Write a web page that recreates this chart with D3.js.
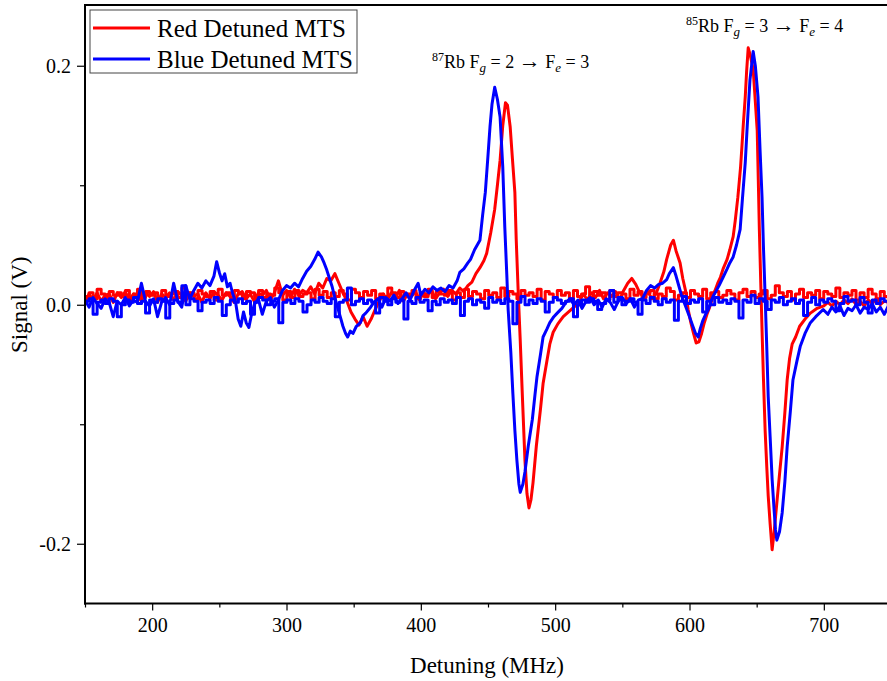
<!DOCTYPE html>
<html>
<head>
<meta charset="utf-8">
<script src="https://cdn.jsdelivr.net/npm/d3@7"></script>
<style>
  html, body { margin: 0; padding: 0; background: #fff; }
  svg { display: block; }
  text { font-family: "Liberation Serif", "Times New Roman", serif; }
</style>
</head>
<body>
<svg id="chart" width="887" height="681"></svg>
<script>
// ---------------- DATA ----------------
const xTicksMajor = [200, 300, 400, 500, 600, 700];
const xTicksMinor = [150, 250, 350, 450, 550, 650, 750];
const yTicksMajor = [-0.2, 0.0, 0.2];
const yTicksMinor = [-0.1, 0.1];
const xDomain = [150, 750];
const yDomain = [-0.25, 0.25];

const seriesNames = ["Red Detuned MTS", "Blue Detuned MTS"];
const seriesColors = ["#ff0000", "#0000ff"];

// Forward scans: [detuning MHz, signal mV]
const redForward = [
[150,2],[153,9],[156,4],[159,10],[162,3],[165,8],[168,9],[171,2],[174,10],[177,6],[180,11],[183,4],[186,9],[189,8],[192,3],[195,10],[198,7],[201,11],[204,2],[207,9],[210,6],[213,10],[216,4],[219,11],[222,8],[225,3],[228,10],[231,7],[234,9],[237,2],[240,10],[243,5],[246,11],[249,8],[252,4],[255,10],[258,7],[261,2],[264,9],[267,11],[270,5],[273,9],[276,3],[279,10],[282,8],[285,12],[288,4],[291,10],[294,20],[297,8],[300,12],[303,6],[306,13],[309,8],[312,12],[315,10],[318,15],[321,9],[324,18],[327,14],[330,22],[333,20],[336,26],[339,18],[342,10],[345,3],[348,-6],[351,-12],[354,-17],[357,-10],[360,-18],[363,-12],[366,-4],[369,3],[372,9],[375,4],[378,10],[381,6],[384,12],[387,3],[390,9],[393,7],[396,11],[399,4],[402,10],[405,8],[408,12],[411,5],[414,10],[417,13],[420,7],[423,12],[426,9],[429,14],[432,11],[435,16],[438,19],[441,26],[444,31],[447,37],[449,43],[452,60],[455,80],[457,100],[459,121],[461,150],[463,169],[464.5,167],[466.5,149],[468,125],[470,94],[471,55],[472.5,10],[474,-30],[475.5,-74],[477.5,-130],[479,-158],[480.5,-170],[482,-163],[483.5,-149],[486,-118],[489,-88],[491,-66],[494,-46],[496,-33],[498.5,-23],[502,-16],[506,-10],[510,-6],[514,-2],[518,3],[521,9],[524,4],[527,10],[530,6],[533,12],[536,5],[539,10],[542,7],[545,11],[548,4],[551,12],[554,18],[557,22],[560,17],[563,10],[566,6],[569,11],[572,5],[575,9],[578,18],[581,28],[583,38],[586,50],[588,54],[590,45],[593,35],[595,22],[597,12],[599,-4],[601,-15],[603,-24],[605,-32],[607,-31],[609,-24],[611,-15],[613,-8],[615,-2],[617,5],[619,12],[621,18],[623,23],[625,30],[628,38],[630,46],[632.5,57],[634,70],[636,90],[638,115],[639,132],[640,150],[641.5,174],[642.5,195],[643.7,215],[645,210],[647.4,197],[649,170],[650.4,146],[651.2,105],[652,63],[653,20],[654,-21],[655,-60],[656.3,-105],[657.5,-135],[658.6,-160],[660,-183],[661.5,-205],[663,-190],[665,-166],[667,-142],[669,-119],[671,-90],[672.7,-63],[674.5,-45],[676.4,-33],[679,-27],[682,-18],[686,-12],[690,-7],[695,-3],[700,-1],[703,2],[706,-1],[709,3],[712,0],[715,4],[718,1],[721,5],[724,0],[727,3],[730,-1],[733,4],[736,1],[739,5],[742,0],[745,3],[748,2]
];

const blueForward = [
[150,4],[153,-2],[156,6],[159,1],[162,-3],[165,5],[168,2],[171,-10],[174,3],[177,0],[180,6],[183,-1],[186,4],[189,2],[192,18],[195,3],[198,-1],[201,5],[204,-10],[207,2],[210,6],[213,0],[216,18],[219,3],[222,-2],[225,16],[228,5],[231,12],[234,18],[237,14],[240,20],[243,16],[246,24],[248,36],[250,27],[252,20],[254,26],[256,15],[258,18],[260,9],[262,3],[264,-12],[266,-18],[268,-6],[270,-15],[272,-19],[274,-8],[276,0],[279,5],[282,-8],[285,3],[288,6],[291,-2],[294,4],[297,12],[300,16],[303,14],[306,18],[309,15],[312,22],[315,28],[318,32],[321,38],[323.5,44],[326,40],[328,35],[330,29],[332,22],[334,15],[336,6],[338,-2],[340,-10],[342,-18],[344,-24],[345.5,-27],[347.5,-22],[349.5,-24],[352,-18],[355,-15],[357,-9],[359,-7],[362,-3],[365,2],[368,5],[371,-2],[374,6],[377,3],[380,8],[383,1],[386,5],[389,10],[392,4],[395,12],[398,18],[400,8],[403,13],[406,10],[409,15],[412,12],[415,14],[418,11],[421,16],[424,14],[427,20],[429,27],[432,30],[435,35],[437,38],[440,46],[442,50],[444,54],[446,75],[448,94],[450,125],[451.5,149],[453,168],[455,182],[457,172],[459,157],[461,115],[462.5,65],[464,25],[465,-4],[467,-40],[468.5,-74],[470,-105],[471.5,-130],[473,-150],[474,-157],[476,-150],[477.5,-140],[480,-118],[483,-96],[485,-75],[486.5,-60],[489,-42],[491,-27],[494,-20],[496,-15],[499,-10],[501.5,-7],[505,-3],[508,2],[511,5],[514,0],[517,4],[520,-3],[523,3],[526,6],[529,0],[532,4],[535,-2],[538,5],[541,2],[544,-4],[547,3],[550,6],[553,1],[556,5],[559,-2],[562,4],[565,5],[568,12],[571,16],[574,14],[577,17],[580,18],[583,21],[585,26],[588,31],[590,24],[591.5,18],[594,8],[596,2],[598,-4],[600,-10],[602.5,-18],[604.5,-24],[606.5,-27],[608,-20],[610,-13],[612,-8],[614,-4],[616,3],[618,8],[620,12],[622,16],[625,23],[628,30],[630,35],[632.5,40],[635,50],[637.7,63],[639.5,90],[641.5,119],[643,150],[645,188],[647.4,212],[649,200],[651,174],[652.5,130],[654,90],[655,50],[656.3,7],[657.5,-35],[658.6,-77],[660,-110],[661.5,-146],[663,-172],[664,-188],[665,-197],[667,-190],[669,-174],[671,-148],[672.7,-119],[675,-90],[677,-63],[680,-47],[682.4,-35],[686,-24],[690,-15],[694,-10],[699.5,-4],[703,-8],[706,-2],[709,-6],[712,-1],[715,-9],[718,-3],[721,-5],[724,0],[727,-7],[730,-2],[733,-4],[736,1],[739,-6],[742,-2],[745,-8],[748,-1]
];

// Return sweeps (748 MHz back to 150 MHz), signal mV
const redReturn = [
7,11,5,9,13,6,10,4,12,8,10,6,14,7,9,11,5,12,8,10,
6,13,9,4,11,7,10,16,8,5,12,9,6,11,7,13,10,4,9,12,
8,6,11,10,5,13,7,9,12,6,10,8,4,11,14,7,9,5,12,10,
6,11,8,13,5,9,10,7,12,4,10,8,11,6,15,9,7,12,5,10,
8,12,6,9,11,4,13,7,10,8,12,5,9,11,7,14,6,10,8,12,
5,9,11,7,13,6,10,4,12,8,9,11,6,13,7,10,5,12,9,8,
11,6,10,14,7,9,5,12,8,11,6,10,13,4,9,12,7,10,6,11,
8,13,5,10,9,7,12,6,11,4,10,14,8,9,6,12,7,10,11,5,
9,12,6,10,8,13,4,11,7,9,12,5,10,8,14,6,11,9,7,12,
5,10,8,11,6,13,9,4,12,7,10,8,11,6,9,13,5,10,7,4];
const blueReturn = [
3,5,1,4,-7,2,6,0,4,3,7,1,-5,3,5,2,4,0,6,2,
-9,4,1,5,3,0,6,2,4,-4,3,5,1,8,2,4,-11,3,5,1,
4,2,6,0,3,-6,5,2,4,1,7,3,-13,4,2,5,0,3,6,1,
4,-8,2,5,3,0,6,2,12,4,1,-4,3,5,2,4,0,-10,5,3,
1,4,6,2,-6,3,5,1,4,0,7,2,-16,3,5,1,4,2,6,-3,
2,4,0,5,3,-9,6,1,4,2,5,0,3,-5,4,2,6,1,3,-12,
4,2,5,0,3,6,-7,2,4,1,5,3,0,14,4,2,-10,5,1,3,
6,2,4,0,-6,3,5,1,4,2,-15,5,3,0,4,6,2,-8,3,1,
5,2,4,0,-9,3,6,1,4,2,-5,3,5,0,16,2,4,1,-11,3,
5,2,4,-7,3,1,6,2,4,0,-10,3,5,1,4,2,-8,5,3,2];
const returnRange = [748, 150];

// ---------------- CHART ----------------
const FONT = "Liberation Serif, Times New Roman, serif";
const svg = d3.select("#chart");
const W = 887, H = 681;
const m = { left: 85, top: 6, plotW: 806, plotBottom: 603.5 };

const x = d3.scaleLinear().domain(xDomain).range([m.left, m.left + m.plotW]);
const y = d3.scaleLinear().domain(yDomain).range([m.plotBottom, m.top]);

function toPoints(fwd) { return fwd.map(d => [d[0], d[1] / 1000]); }
function returnPoints(ret) {
  const xr = d3.scaleLinear().domain([0, ret.length - 1]).range(returnRange);
  return ret.map((v, i) => [xr(i), v / 1000]);
}
const series = [
  { name: seriesNames[0], color: seriesColors[0], fwd: toPoints(redForward), ret: returnPoints(redReturn) },
  { name: seriesNames[1], color: seriesColors[1], fwd: toPoints(blueForward), ret: returnPoints(blueReturn) }
];

svg.append("defs").append("clipPath").attr("id", "clip")
  .append("rect").attr("x", m.left).attr("y", m.top)
  .attr("width", m.plotW).attr("height", m.plotBottom - m.top);

const lineFwd = d3.line().x(d => x(d[0])).y(d => y(d[1]));
const lineRet = d3.line().x(d => x(d[0])).y(d => y(d[1])).curve(d3.curveStepAfter);
const gLines = svg.append("g").attr("clip-path", "url(#clip)");
series.forEach(s => {
  // forward sweep, then the return sweep joined to its end
  gLines.append("path").datum(s.fwd.concat([s.ret[0]]))
    .attr("d", lineFwd).attr("fill", "none").attr("stroke", s.color)
    .attr("stroke-width", 3).attr("stroke-linejoin", "round");
  gLines.append("path").datum(s.ret)
    .attr("d", lineRet).attr("fill", "none").attr("stroke", s.color)
    .attr("stroke-width", 3).attr("stroke-linejoin", "round");
});

// Axes
const xAxis = svg.append("g").attr("transform", `translate(0,${m.plotBottom})`)
  .call(d3.axisBottom(x).tickValues(xTicksMajor).tickFormat(d3.format("d")).tickSize(7).tickPadding(7));
const xMinor = svg.append("g").attr("transform", `translate(0,${m.plotBottom})`)
  .call(d3.axisBottom(x).tickValues(xTicksMinor).tickFormat("").tickSize(4));
const yAxis = svg.append("g").attr("transform", `translate(${m.left},0)`)
  .call(d3.axisLeft(y).tickValues(yTicksMajor).tickFormat(d => d3.format(".1f")(d).replace("\u2212", "-")).tickSize(8).tickPadding(6));
const yMinor = svg.append("g").attr("transform", `translate(${m.left},0)`)
  .call(d3.axisLeft(y).tickValues(yTicksMinor).tickFormat("").tickSize(5));

[xAxis, xMinor, yAxis, yMinor].forEach(g => {
  g.attr("font-family", FONT);
  g.select(".domain").remove();
  g.selectAll(".tick line").attr("stroke", "#000").attr("stroke-width", 1.2);
  g.selectAll("text").attr("font-family", FONT).attr("font-size", 20).attr("fill", "#000");
});

// Frame lines
svg.append("line").attr("x1", m.left).attr("x2", m.left).attr("y1", m.top - 1).attr("y2", m.plotBottom + 1)
  .attr("stroke", "#000").attr("stroke-width", 2);
svg.append("line").attr("x1", m.left - 1).attr("x2", W).attr("y1", m.plotBottom).attr("y2", m.plotBottom)
  .attr("stroke", "#000").attr("stroke-width", 2);
svg.append("line").attr("x1", m.left - 1).attr("x2", W).attr("y1", m.top - 1).attr("y2", m.top - 1)
  .attr("stroke", "#000").attr("stroke-width", 2);

// Axis titles
svg.append("text").attr("x", 487).attr("y", 673).attr("text-anchor", "middle")
  .attr("font-family", FONT).attr("font-size", 23).text("Detuning (MHz)");
svg.append("text").attr("transform", `translate(27,${y(0)}) rotate(-90)`).attr("text-anchor", "middle")
  .attr("font-family", FONT).attr("font-size", 23).text("Signal (V)");

// Legend
const lg = svg.append("g");
lg.append("rect").attr("x", 90).attr("y", 10).attr("width", 267).attr("height", 63)
  .attr("fill", "#fff").attr("stroke", "#444").attr("stroke-width", 1);
series.forEach((s, i) => {
  const yy = 28 + i * 31;
  lg.append("line").attr("x1", 93).attr("x2", 150).attr("y1", yy).attr("y2", yy)
    .attr("stroke", s.color).attr("stroke-width", 3);
  lg.append("text").attr("x", 157).attr("y", yy + 8.5).attr("font-family", FONT)
    .attr("font-size", 25).text(s.name);
});

// Annotations
function annot(xp, yp, iso, fg, fe) {
  const t = svg.append("text").attr("x", xp).attr("y", yp).attr("font-family", FONT).attr("font-size", 18);
  t.append("tspan").attr("font-size", 12).attr("dy", -7).text(iso);
  t.append("tspan").attr("dy", 7).text("Rb F");
  t.append("tspan").attr("font-size", 13).attr("font-style", "italic").attr("dy", 4).text("g");
  t.append("tspan").attr("dy", -4).text(" = " + fg + " ");
  t.append("tspan").attr("font-size", 22).text("\u2192");
  t.append("tspan").text(" F");
  t.append("tspan").attr("font-size", 13).attr("font-style", "italic").attr("dy", 4).text("e");
  t.append("tspan").attr("dy", -4).text(" = " + fe);
}
annot(432, 68, "87", 2, 3);
annot(686, 32, "85", 3, 4);
</script>
</body>
</html>
